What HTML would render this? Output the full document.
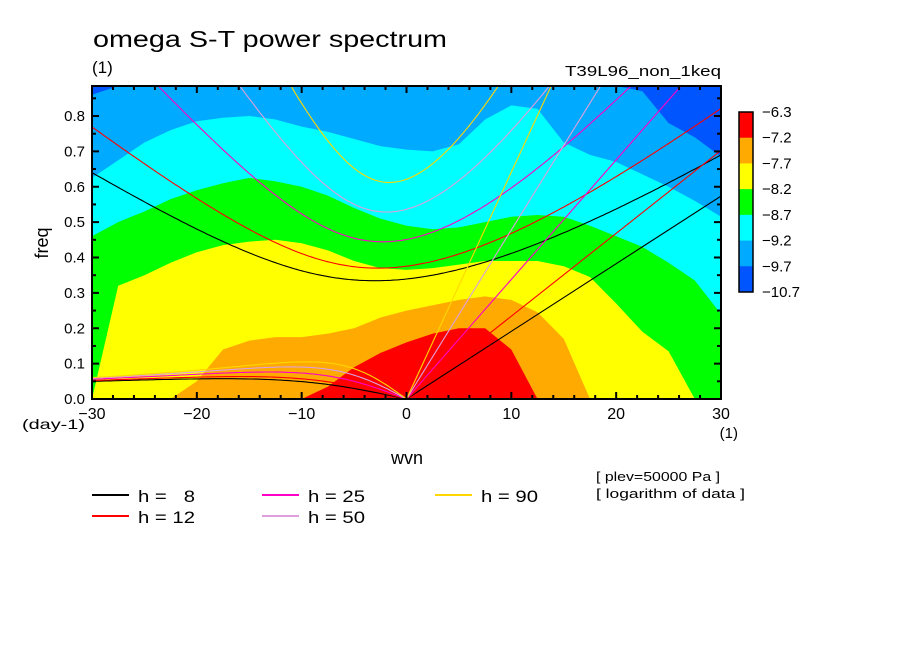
<!DOCTYPE html>
<html><head><meta charset="utf-8">
<style>
body{margin:0;background:#fff;}
svg{display:block;font-family:"Liberation Sans",sans-serif;}
</style></head>
<body>
<svg id="chart" width="904" height="654" viewBox="0 0 904 654" xmlns="http://www.w3.org/2000/svg">
<rect width="904" height="654" fill="#fff"/>
<text x="93" y="47" font-size="23" textLength="354" lengthAdjust="spacingAndGlyphs" fill="#000">omega S-T power spectrum</text>
<text x="92" y="73" font-size="17" fill="#000">(1)</text>
<text x="565" y="76" font-size="15" textLength="156" lengthAdjust="spacingAndGlyphs" fill="#000">T39L96_non_1keq</text>
<g id="fills"></g>
<g id="curves"></g>
<g id="axes"></g>
<rect x="92" y="86" width="629" height="313" fill="none" stroke="#000" stroke-width="2"/>
<text x="407" y="464" font-size="18" text-anchor="middle">wvn</text>
<text x="48" y="243" font-size="18" text-anchor="middle" transform="rotate(-90 48 243)">freq</text>
<text x="22" y="429" font-size="14" textLength="63" lengthAdjust="spacingAndGlyphs">(day-1)</text>
<text x="738" y="438" font-size="15" text-anchor="end">(1)</text>
<g id="colorbar"></g>
<g id="legend"></g>
<text x="596" y="481" font-size="13" textLength="124" lengthAdjust="spacingAndGlyphs">[ plev=50000 Pa ]</text>
<text x="596" y="498" font-size="13" textLength="149" lengthAdjust="spacingAndGlyphs">[ logarithm of data ]</text>
</svg>
<script>
// ---- data ----
const wavenumbers = [-30,-27.5,-25,-22.5,-20,-17.5,-15,-12.5,-10,-7.5,-5,-2.5,0,2.5,5,7.5,10,12.5,15,17.5,20,22.5,25,27.5,30];
// upper freq boundary of each filled level per wavenumber column (0 = absent)
const topMidBlue = [0.86,0.89,1,1,1,1,1,1,1,1,1,1,1,1,1,1,1,1,1,1,1,0.87,0.78,0.74,0.685];
const topCyan    = [0.625,0.675,0.725,0.76,0.785,0.795,0.80,0.79,0.77,0.755,0.735,0.715,0.705,0.70,0.72,0.79,0.83,0.82,0.725,0.69,0.67,0.635,0.60,0.56,0.515];
const topGreen   = [0.46,0.50,0.53,0.565,0.59,0.61,0.625,0.615,0.60,0.575,0.54,0.51,0.49,0.48,0.485,0.50,0.515,0.52,0.515,0.49,0.46,0.43,0.385,0.335,0.24];
const topYellow  = [0,0.32,0.35,0.385,0.415,0.435,0.445,0.45,0.44,0.42,0.39,0.37,0.365,0.37,0.38,0.39,0.39,0.39,0.375,0.345,0.27,0.19,0.135,0,0];
const topOrange  = [0,0,0,0,0.05,0.14,0.165,0.175,0.175,0.185,0.20,0.23,0.25,0.265,0.28,0.29,0.28,0.245,0.17,0,0,0,0,0,0];
const topRed     = [0,0,0,0,0,0,0,0,0,0.035,0.09,0.13,0.16,0.185,0.20,0.20,0.14,0,0,0,0,0,0,0,0];
const levelLabels = ["-6.3","-7.2","-7.7","-8.2","-8.7","-9.2","-9.7","-10.7"];
const depths = [8,12,25,50,90];
const xTicks = [-30,-20,-10,0,10,20,30];
const yTicks = [0,0.1,0.2,0.3,0.4,0.5,0.6,0.7,0.8];

const NS="http://www.w3.org/2000/svg";
const X0=92,X1=721,Y0=399,FMAX=(399-86)/353.75;
const xs=s=>X0+(s+30)*(X1-X0)/60;
const ys=f=>Y0-f*353.75;
function el(tag,attrs,parent){const e=document.createElementNS(NS,tag);for(const k in attrs)e.setAttribute(k,attrs[k]);parent.appendChild(e);return e;}
const clamp=f=>Math.max(0,Math.min(FMAX,f));

// ---- fills ----
const fills=document.getElementById('fills');
const bg=el('rect',{x:X0,y:86,width:X1-X0,height:313,fill:'#0055ff'},fills);


const layers=[[topMidBlue,'#00aaff','mid-blue'],[topCyan,'#00ffff','cyan'],[topGreen,'#00ff00','green'],[topYellow,'#ffff00','yellow'],[topOrange,'#ffaa00','orange'],[topRed,'#ff0000','red']];
layers.forEach(([tops,col,nm])=>{
  let d=`M${xs(wavenumbers[0])},${Y0}`;
  wavenumbers.forEach((s,i)=>{d+=` L${xs(s).toFixed(1)},${ys(clamp(tops[i])).toFixed(1)}`;});
  d+=` L${xs(wavenumbers[wavenumbers.length-1])},${Y0} Z`;
  const p=el('path',{d:d,fill:col,stroke:'none'},fills);
  
  
});

// ---- dispersion curves ----
const a=6.371e6,Om=7.292e-5,g=9.81,beta=2*Om/a,cpd=86400/(2*Math.PI);
const curveColors={8:'#000000',12:'#ff0000',25:'#ff00c8',50:'#dda0dd',90:'#ffd700'};
const curves=document.getElementById('curves');
const cp=document.createElementNS(NS,'clipPath');cp.setAttribute('id','clip');
el('rect',{x:X0,y:86,width:X1-X0,height:313},cp);curves.appendChild(cp);
curves.setAttribute('clip-path','url(#clip)');
function solve(k,c,w){for(let i=0;i<60;i++){const f=w*w*w-(c*c*k*k+3*beta*c)*w-beta*c*c*k;const df=3*w*w-(c*c*k*k+3*beta*c);w-=f/df;}return w;}
depths.forEach(h=>{
  const c=Math.sqrt(g*h),col=curveColors[h];
  let ig='',ro='';
  for(let s=-30;s<=30.001;s+=0.25){
    const k=s/a;
    const w=solve(k,c,Math.sqrt(c*c*k*k+3*beta*c)+1e-6);
    ig+=(ig?' L':'M')+xs(s).toFixed(1)+','+ys(w*cpd).toFixed(1);
    if(s<=0){const w0=-beta*k/(k*k+3*beta/c);const wr=s===0?0:solve(k,c,w0);
      ro+=(ro?' L':'M')+xs(s).toFixed(1)+','+ys(wr*cpd).toFixed(1);}
  }
  const p1=el('path',{d:ig,fill:'none',stroke:col,'stroke-width':1.1},curves);
  
  
  const p2=el('path',{d:ro,fill:'none',stroke:col,'stroke-width':1.1},curves);
  
  
  const kv=el('line',{x1:xs(0),y1:ys(0),x2:xs(30),y2:ys(c*(30/a)*cpd),stroke:col,'stroke-width':1.1},curves);
  
  
});

// ---- axes ----
const axes=document.getElementById('axes');
for(let s=-30;s<=30;s+=2){
  const maj=s%10===0,L=maj?7:4,x=xs(s);
  const t1=el('line',{x1:x,y1:Y0,x2:x,y2:Y0-L,stroke:'#000','stroke-width':2},axes);
  
  
  const t2=el('line',{x1:x,y1:86,x2:x,y2:86+L,stroke:'#000','stroke-width':2},axes);
  
  
}
xTicks.forEach(s=>{const t=el('text',{x:xs(s),y:419,'font-size':16,'text-anchor':'middle'},axes);t.textContent=s<0?'\u2212'+(-s):String(s);
  
  });
for(let i=0;i<=17;i++){const f=i*0.05,maj=i%2===0,L=maj?7:4,y=ys(f);
  const t1=el('line',{x1:X0,y1:y,x2:X0+L,y2:y,stroke:'#000','stroke-width':2},axes);
  
  
  const t2=el('line',{x1:X1,y1:y,x2:X1-L,y2:y,stroke:'#000','stroke-width':2},axes);
  
  }
yTicks.forEach(f=>{const t=el('text',{x:85,y:ys(f)+5,'font-size':15,'text-anchor':'end'},axes);t.textContent=f.toFixed(1);
  
  });

// ---- colorbar ----
const cb=document.getElementById('colorbar');
const cbCols=['#ff0000','#ffaa00','#ffff00','#00ff00','#00ffff','#00aaff','#0055ff'];
const cbTop=112,cbH=180/7;
cbCols.forEach((c,i)=>{const r=el('rect',{x:739,y:cbTop+i*cbH,width:14,height:cbH+0.3,fill:c},cb);
  
  });
el('rect',{x:739,y:cbTop,width:14,height:180,fill:'none',stroke:'#000','stroke-width':1.5},cb);
levelLabels.forEach((l,i)=>{const t=el('text',{x:762,y:cbTop+i*cbH+5,'font-size':15},cb);t.textContent=l.replace('-','\u2212');
  
  });

// ---- legend ----
const lg=document.getElementById('legend');
const pos=[[92,495],[92,516],[262,495],[262,516],[435,495]];
depths.forEach((h,i)=>{const [x,y]=pos[i];
  const ln=el('line',{x1:x,y1:y,x2:x+37,y2:y,stroke:curveColors[h],'stroke-width':2},lg);
  
  
  const t=el('text',{x:x+46,y:y+7,'font-size':17,textLength:57,lengthAdjust:'spacingAndGlyphs'},lg);t.textContent='h = '+(h<10?'\u00a0\u00a0':'')+h;
  
  });
</script>
</body></html>
